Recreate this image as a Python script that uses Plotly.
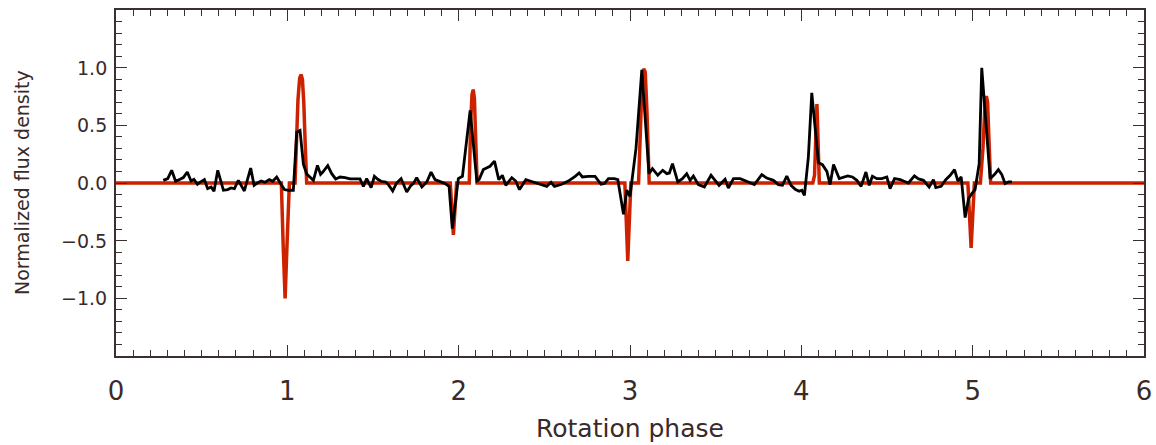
import plotly.graph_objects as go

# Observed (black) light curve: rotation phase and normalized flux density
obs_phase = [
    0.276, 0.302, 0.325, 0.348, 0.374, 0.393, 0.416, 0.438, 0.455, 0.475,
    0.494, 0.516, 0.535, 0.555, 0.572, 0.594, 0.627, 0.652, 0.671, 0.691,
    0.714, 0.734, 0.749, 0.786, 0.806, 0.825, 0.847, 0.870, 0.895, 0.915,
    0.938, 0.963, 0.983, 1.006, 1.035, 1.055, 1.074, 1.094, 1.113, 1.152,
    1.176, 1.194, 1.207, 1.236, 1.259, 1.282, 1.308, 1.337, 1.366, 1.395,
    1.424, 1.444, 1.463, 1.489, 1.508, 1.528, 1.547, 1.574, 1.590, 1.615,
    1.638, 1.664, 1.697, 1.722, 1.736, 1.755, 1.785, 1.814, 1.839, 1.862,
    1.891, 1.921, 1.944, 1.963, 1.983, 1.998, 2.022, 2.067, 2.106, 2.119,
    2.144, 2.183, 2.209, 2.234, 2.255, 2.275, 2.310, 2.333, 2.355, 2.392,
    2.417, 2.456, 2.485, 2.514, 2.539, 2.559, 2.602, 2.640, 2.680, 2.703,
    2.722, 2.757, 2.796, 2.831, 2.851, 2.874, 2.909, 2.929, 2.962, 2.981,
    3.000, 3.035, 3.069, 3.111, 3.131, 3.162, 3.191, 3.215, 3.230, 3.248,
    3.279, 3.306, 3.331, 3.351, 3.370, 3.399, 3.434, 3.473, 3.520, 3.555,
    3.574, 3.604, 3.643, 3.688, 3.726, 3.769, 3.798, 3.837, 3.866, 3.890,
    3.915, 3.940, 3.964, 3.987, 4.003, 4.018, 4.041, 4.061, 4.100, 4.123,
    4.149, 4.168, 4.188, 4.221, 4.246, 4.271, 4.298, 4.324, 4.349, 4.377,
    4.396, 4.415, 4.441, 4.470, 4.499, 4.518, 4.544, 4.577, 4.596, 4.625,
    4.660, 4.684, 4.713, 4.746, 4.771, 4.785, 4.816, 4.843, 4.869, 4.894,
    4.914, 4.933, 4.956, 4.976, 4.995, 5.014, 5.038, 5.053, 5.102, 5.127,
    5.150, 5.170, 5.189, 5.209, 5.229,
]
obs_flux = [
    0.023, 0.038, 0.110, 0.015, 0.032, 0.047, 0.095, 0.017, 0.032, -0.011,
    0.009, 0.029, -0.049, -0.035, -0.072, 0.110, -0.063, -0.057, -0.043, -0.049,
    0.023, -0.035, -0.069, 0.130, -0.020, 0.000, 0.017, 0.006, 0.029, 0.015,
    0.052, -0.011, -0.057, -0.063, -0.063, 0.442, 0.456, 0.160, 0.078, 0.023,
    0.153, 0.075, 0.095, 0.150, 0.081, 0.035, 0.052, 0.046, 0.035, 0.035,
    0.035, -0.029, 0.038, -0.040, 0.058, 0.032, 0.015, 0.009, -0.014, -0.069,
    0.000, 0.038, -0.078, -0.020, -0.005, 0.046, -0.035, 0.009, 0.095, 0.029,
    0.015, -0.005, -0.029, -0.395, -0.150, 0.038, 0.058, 0.629, 0.017, 0.029,
    0.116, 0.145, 0.190, 0.029, 0.067, -0.020, 0.046, 0.017, -0.057, 0.029,
    0.017, 0.000, -0.014, -0.029, 0.006, -0.029, -0.011, 0.017, 0.058, 0.087,
    0.052, 0.058, 0.058, -0.011, -0.005, 0.038, 0.038, 0.029, -0.271, -0.063,
    -0.115, 0.300, 0.982, 0.081, 0.125, 0.067, 0.110, 0.081, 0.087, 0.168,
    0.009, 0.038, 0.081, 0.023, 0.061, -0.014, -0.035, 0.067, -0.020, 0.032,
    -0.043, 0.038, 0.038, 0.009, -0.014, 0.073, 0.043, 0.023, -0.014, -0.020,
    0.061, -0.020, -0.055, -0.072, -0.063, -0.107, 0.225, 0.781, 0.176, 0.159,
    0.101, -0.014, 0.160, 0.038, 0.052, 0.061, 0.052, 0.023, -0.029, 0.095,
    -0.020, 0.058, 0.038, 0.038, 0.052, -0.049, 0.038, 0.029, 0.017, 0.000,
    0.061, 0.035, 0.023, -0.035, 0.029, -0.040, -0.029, 0.029, 0.067, 0.116,
    0.017, 0.052, -0.300, -0.135, -0.092, -0.057, 0.168, 0.999, 0.038, 0.073,
    0.116, 0.073, -0.005, 0.009, 0.009,
]

# Model (red) curve
model_phase = [
    0.000, 0.965, 0.976, 0.987, 0.999, 1.012, 1.045, 1.053, 1.062, 1.072,
    1.080, 1.088, 1.096, 1.104, 1.113,
    1.951, 1.969, 1.988, 2.062, 2.070, 2.078, 2.085, 2.092, 2.100, 2.108,
    2.970, 2.987, 3.005, 3.050, 3.060, 3.070, 3.080, 3.089, 3.099, 3.112,
    4.067, 4.077, 4.091, 4.105,
    4.972, 4.991, 5.010, 5.045, 5.060, 5.072, 5.080, 5.087, 5.097, 5.105,
    6.000,
]
model_flux = [
    0.000, 0.000, -0.550, -1.000, -0.500, 0.000, 0.000, 0.350, 0.720, 0.910,
    0.940, 0.900, 0.700, 0.350, 0.000,
    0.000, -0.450, 0.000, 0.000, 0.520, 0.770, 0.810, 0.730, 0.350, 0.000,
    0.000, -0.675, 0.000, 0.000, 0.420, 0.860, 0.990, 0.960, 0.620, 0.000,
    0.000, 0.067, 0.685, 0.000,
    0.000, -0.563, 0.000, 0.000, 0.300, 0.680, 0.753, 0.700, 0.300, 0.000,
    0.000,
]

x_ticks = [0, 1, 2, 3, 4, 5, 6]
y_ticks = [-1.0, -0.5, 0.0, 0.5, 1.0]
x_title = "Rotation phase"
y_title = "Normalized flux density"

AX = "#3a3030"
TXT = "#3a2a2a"
FONT = "DejaVu Sans"

fig = go.Figure()
fig.add_trace(go.Scatter(x=model_phase, y=model_flux, mode="lines",
                         line=dict(color="#cc2200", width=3.5), showlegend=False))
fig.add_trace(go.Scatter(x=obs_phase, y=obs_flux, mode="lines",
                         line=dict(color="#000000", width=2.8), showlegend=False))

# y tick labels, placed at the tick values through the y axis
for v in y_ticks:
    fig.add_annotation(
        xref="paper", yref="y", x=0, y=v, xanchor="right", yanchor="middle",
        xshift=-7, showarrow=False,
        text=f"{v:.1f}".replace("-", "\u2212"),
        font=dict(size=19, family=FONT, color=TXT),
    )

fig.add_annotation(
    xref="paper", yref="paper", x=0.5, y=0, xanchor="center", yanchor="middle",
    yshift=-72, showarrow=False, text=x_title,
    font=dict(size=25, family=FONT, color=TXT),
)
fig.add_annotation(
    xref="paper", yref="paper", x=0, y=0.5, xanchor="center", yanchor="middle",
    xshift=-94, textangle=-90, showarrow=False, text=y_title,
    font=dict(size=19, family=FONT, color=TXT),
)

fig.update_layout(
    width=1156, height=445,
    margin=dict(l=116, r=12, t=10, b=89, autoexpand=False),
    paper_bgcolor="white", plot_bgcolor="white",
    font=dict(family=FONT, color=TXT),
    hovermode=False,
    xaxis=dict(
        range=[0, 6], tickvals=x_ticks, ticktext=[str(v) for v in x_ticks],
        showgrid=False, zeroline=False, automargin=False,
        showline=True, linecolor=AX, linewidth=1.5, mirror="allticks",
        ticks="inside", ticklen=11, tickwidth=1.3, tickcolor=AX,
        tickfont=dict(size=26, family=FONT, color=TXT),
        ticklabelstandoff=11,
        minor=dict(dtick=0.1, ticks="inside", ticklen=6, tickwidth=1.2,
                   tickcolor=AX, showgrid=False),
    ),
    yaxis=dict(
        range=[-1.5, 1.5], tickvals=y_ticks, showticklabels=False,
        showgrid=False, zeroline=False, automargin=False,
        showline=True, linecolor=AX, linewidth=1.5, mirror="allticks",
        ticks="inside", ticklen=11, tickwidth=1.3, tickcolor=AX,
        minor=dict(dtick=0.1, ticks="inside", ticklen=6, tickwidth=1.2,
                   tickcolor=AX, showgrid=False),
    ),
)

fig.write_html(
    "out.html",
    config={"displayModeBar": False},
    post_script="document.body.style.margin='0';document.body.style.overflow='hidden';",
)
